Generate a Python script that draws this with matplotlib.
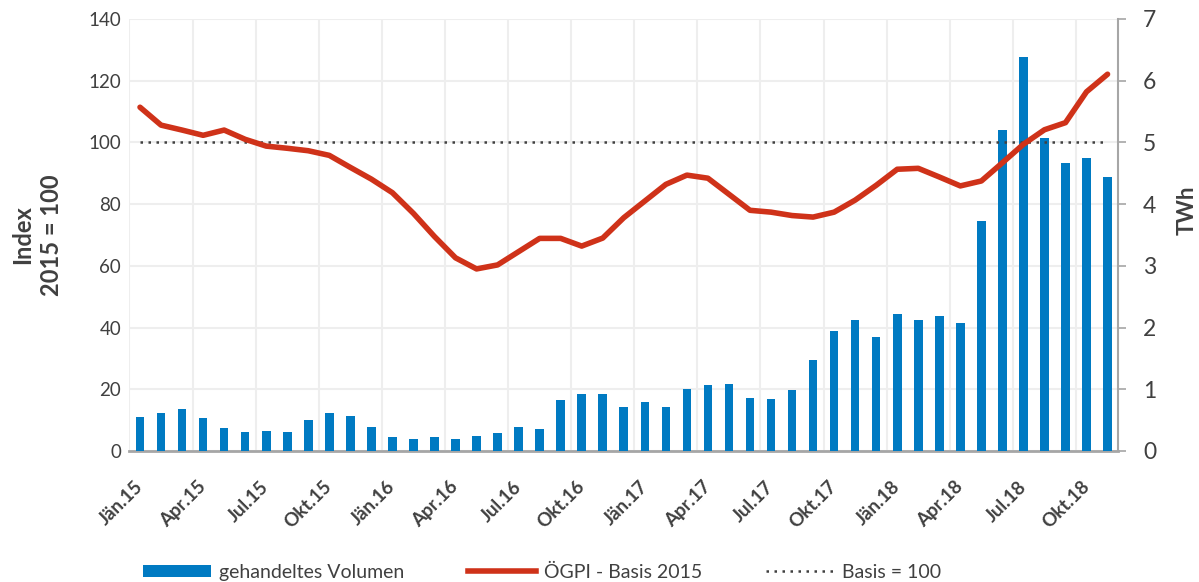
import matplotlib.pyplot as plt
import matplotlib.transforms as mtransforms
from matplotlib.patches import Patch
from matplotlib.lines import Line2D
import numpy as np

plt.rcParams['font.family'] = ['Lato', 'DejaVu Sans']

# monthly data Jan 2015 - Nov 2018
volume_twh = [0.55, 0.62, 0.68, 0.53, 0.38, 0.31, 0.32, 0.30, 0.51, 0.62, 0.56, 0.39,
              0.22, 0.20, 0.22, 0.19, 0.25, 0.29, 0.39, 0.35, 0.82, 0.92, 0.92, 0.71,
              0.80, 0.71, 1.00, 1.07, 1.09, 0.86, 0.84, 0.99, 1.48, 1.94, 2.12, 1.85,
              2.22, 2.13, 2.19, 2.07, 3.73, 5.20, 6.38, 5.07, 4.67, 4.74, 4.44]
oegpi = [111.4, 105.6, 104.0, 102.3, 104.0, 101.0, 98.8, 98.1, 97.3, 95.8, 91.9, 88.1,
         83.7, 77.0, 69.5, 62.6, 59.0, 60.3, 64.6, 68.9, 68.9, 66.4, 69.0, 75.6,
         81.0, 86.4, 89.4, 88.4, 83.2, 78.0, 77.4, 76.3, 75.8, 77.4, 81.3, 86.1,
         91.3, 91.6, 88.8, 85.9, 87.5, 93.4, 99.4, 104.1, 106.4, 116.4, 122.1]
basis = [100] * len(oegpi)
tick_labels = ['Jän.15', 'Apr.15', 'Jul.15', 'Okt.15', 'Jän.16', 'Apr.16', 'Jul.16', 'Okt.16',
               'Jän.17', 'Apr.17', 'Jul.17', 'Okt.17', 'Jän.18', 'Apr.18', 'Jul.18', 'Okt.18']

blue = '#007AC2'
red = '#CF3219'
txt = '#404040'
grid_c = '#EEEEEE'
axis_c = '#A6A6A6'

x = np.arange(len(volume_twh))

fig = plt.figure(figsize=(11.99, 5.82), dpi=100)
rect = [0.108, 0.2251, 0.8245, 0.7423]

# volume axis (right) in the back
axv = fig.add_axes(rect)
axv.bar(x, volume_twh, width=0.41, color=blue, zorder=3)
axv.set_xlim(-0.5, len(x) - 0.5)
axv.set_ylim(0, 7)
axv.yaxis.tick_right()
axv.set_yticks(range(0, 8))
axv.tick_params(axis='y', which='major', length=6, width=1.2, color=axis_c,
                labelsize=16.5, labelcolor=txt, pad=12)
axv.set_xticks(np.arange(-0.5, len(x) - 1, 3), minor=True)
axv.tick_params(axis='x', which='minor', length=0)
axv.set_xticks(x[::3])
axv.tick_params(axis='x', which='major', length=0, labelbottom=False)
axv.grid(axis='y', which='major', color=grid_c, lw=1.5, zorder=0)
axv.grid(axis='x', which='minor', color=grid_c, lw=1.5, zorder=0)
axv.set_axisbelow(True)
for s in ['left', 'top']:
    axv.spines[s].set_visible(False)
axv.spines['right'].set_color(axis_c)
axv.spines['right'].set_linewidth(1.5)
axv.spines['bottom'].set_color(axis_c)
axv.spines['bottom'].set_linewidth(2)

# month labels, rotated 45 degrees below the axis
offset = mtransforms.ScaledTranslation(0, -33 / 100, fig.dpi_scale_trans)
lab_trans = axv.get_xaxis_transform() + offset
for xi, lab in zip(x[::3], tick_labels):
    axv.text(xi, 0, lab, transform=lab_trans, rotation=45, rotation_mode='anchor',
             ha='right', va='center', fontsize=13.5, fontweight='bold', color=txt,
             clip_on=False)

# index axis (left) on top
axi = fig.add_axes(rect)
axi.patch.set_visible(False)
axi.plot(x, basis, color='#404040', lw=1.8, linestyle=(0, (1, 2.2)), zorder=4)
axi.plot(x, oegpi, color=red, lw=4, solid_joinstyle='round', solid_capstyle='round', zorder=5)
axi.set_xlim(axv.get_xlim())
axi.set_ylim(0, 140)
axi.set_yticks(range(0, 141, 20))
axi.tick_params(axis='y', length=0, labelsize=13.5, labelcolor=txt, pad=6)
axi.set_xticks([])
for s in axi.spines.values():
    s.set_visible(False)

fig.text(37 / 1199, 1 - 235 / 582, 'Index\n2015 = 100', rotation=90, ha='center', va='center',
         multialignment='center', fontsize=17, fontweight='bold', color=txt, linespacing=1.35)
fig.text(1187 / 1199, 1 - 210 / 582, 'TWh', rotation=90, ha='center', va='center',
         fontsize=16, fontweight='bold', color=txt)

handles = [Patch(facecolor=blue, edgecolor='none'),
           Line2D([], [], color=red, lw=4),
           Line2D([], [], color='#404040', lw=1.8, linestyle=(0, (1, 2.2)))]
labels = ['gehandeltes Volumen', 'ÖGPI - Basis 2015', 'Basis = 100']
leg = fig.legend(handles, labels, loc='center', bbox_to_anchor=(0.452, 0.0172), ncol=3,
                 frameon=False, fontsize=14, handlelength=3.5, handleheight=0.57,
                 handletextpad=0.4, columnspacing=3.3)
for t in leg.get_texts():
    t.set_color(txt)

fig.savefig('out.png', dpi=100)
